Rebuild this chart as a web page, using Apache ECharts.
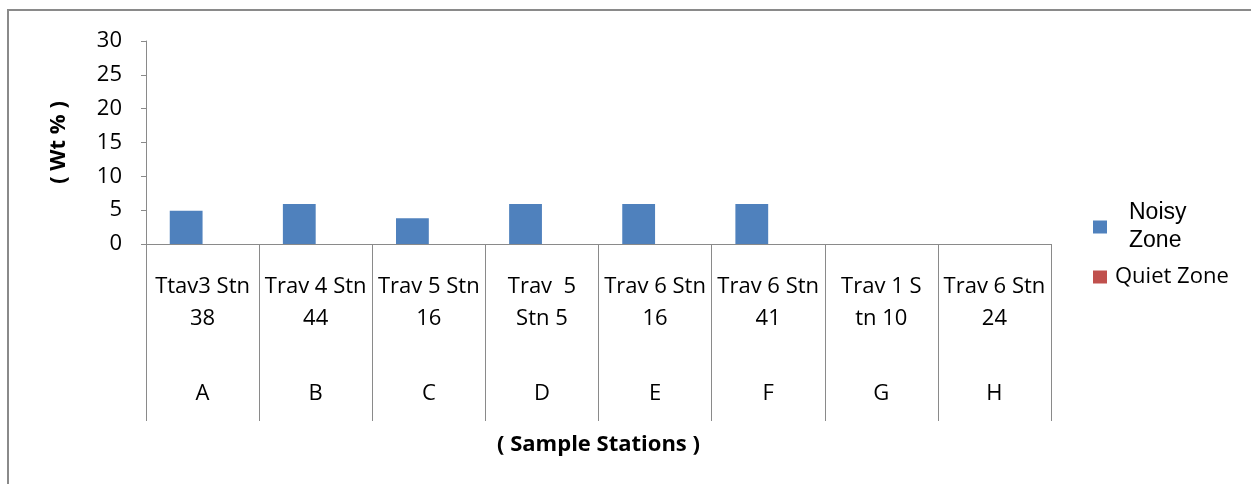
<!DOCTYPE html>
<html lang="en">
<head>
    <meta charset="UTF-8">
    <title>Sample Stations</title>
    <script src="https://cdn.jsdelivr.net/npm/echarts@6/dist/echarts.min.js"></script>
    <style>
        html, body { margin: 0; padding: 0; background: #fff; }
        #main { width: 1251px; height: 484px; }
    </style>
</head>
<body>
<div id="main"></div>

<script type="text/javascript">
    // 数据
    var stations = ['Ttav3 Stn\n38', 'Trav 4 Stn\n44', 'Trav 5 Stn\n16', 'Trav  5\nStn 5',
        'Trav 6 Stn\n16', 'Trav 6 Stn\n41', 'Trav 1 S\ntn 10', 'Trav 6 Stn\n24'];
    var letters = ['A', 'B', 'C', 'D', 'E', 'F', 'G', 'H'];
    var noisyZone = [4.9, 5.9, 3.8, 5.9, 5.9, 5.9, 0, 0];
    var quietZone = [0, 0, 0, 0, 0, 0, 0, 0];
    var yTicks = [0, 5, 10, 15, 20, 25, 30];

    var font = '"Open Sans", Lato, sans-serif';
    var categories = stations.map(function (s, i) { return s + '|' + letters[i]; });

    var myChart = echarts.init(document.getElementById('main'));

    var option = {
        animation: false,
        textStyle: { fontFamily: font },
        graphic: [{
            type: 'rect',
            shape: { x: 8, y: 10, width: 1400, height: 700 },
            style: { fill: 'none', stroke: '#8a8a8a', lineWidth: 2 },
            silent: true
        }],
        grid: { left: 146, right: 200, top: 41, bottom: 240 },
        legend: [{
            left: 1093,
            top: 186,
            padding: 0,
            itemWidth: 14,
            itemHeight: 13,
            icon: 'rect',
            data: [{ name: 'Noisy\nZone' }],
            textStyle: {
                color: '#000', fontFamily: '"Liberation Sans", Arial, sans-serif', fontSize: 23,
                lineHeight: 28, padding: [0, 0, 26, 17]
            }
        }, {
            left: 1093,
            top: 263,
            padding: 0,
            itemWidth: 14,
            itemHeight: 13,
            icon: 'rect',
            data: [{ name: 'Quiet Zone' }],
            textStyle: { color: '#000', fontFamily: font, fontSize: 22, lineHeight: 28, padding: [0, 0, 0, 3] }
        }],
        xAxis: {
            type: 'category',
            data: categories,
            name: '( Sample Stations )',
            nameLocation: 'middle',
            nameGap: 190,
            nameTextStyle: { fontFamily: font, fontSize: 22, fontWeight: 'bold', color: '#000' },
            axisLine: { lineStyle: { color: '#8a8a8a', width: 1 } },
            axisTick: { show: true, alignWithLabel: false, interval: 0, length: 177, lineStyle: { color: '#8a8a8a' } },
            axisLabel: {
                margin: 27,
                interval: 0,
                color: '#000',
                fontSize: 22,
                fontFamily: font,
                formatter: function (v) {
                    var parts = v.split('|');
                    var lines = parts[0].split('\n');
                    return '{t|' + lines[0] + '}\n{t|' + lines[1] + '}\n{g| }\n{t|' + parts[1] + '}';
                },
                rich: {
                    t: { fontSize: 22, fontFamily: font, color: '#000', lineHeight: 32 },
                    g: { fontSize: 10, lineHeight: 43 }
                }
            }
        },
        yAxis: {
            type: 'value',
            min: 0,
            max: 30,
            interval: 5,
            name: '( Wt % )',
            nameLocation: 'middle',
            nameGap: 76,
            nameTextStyle: { fontFamily: font, fontSize: 22, fontWeight: 'bold', color: '#000' },
            splitLine: { show: false },
            axisLine: { show: true, lineStyle: { color: '#8a8a8a', width: 1 } },
            axisTick: { show: true, length: 5, lineStyle: { color: '#8a8a8a' } },
            axisLabel: {
                margin: 24,
                color: '#000',
                fontSize: 22,
                fontFamily: font,
                formatter: function (v) { return yTicks.indexOf(v) >= 0 ? String(v) : ''; }
            }
        },
        series: [{
            name: 'Noisy\nZone',
            type: 'bar',
            data: noisyZone,
            barGap: '0%',
            barCategoryGap: '42%',
            itemStyle: { color: '#4f81bd' }
        }, {
            name: 'Quiet Zone',
            type: 'bar',
            data: quietZone,
            itemStyle: { color: '#c0504d' }
        }]
    };

    myChart.setOption(option);
</script>

</body>
</html>
